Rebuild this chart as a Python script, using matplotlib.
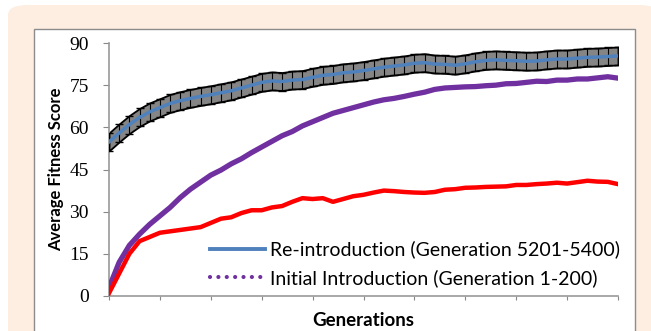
import numpy as np
import matplotlib
matplotlib.use("Agg")
import matplotlib.pyplot as plt
from matplotlib.patches import FancyBboxPatch, Rectangle
from matplotlib.lines import Line2D

# generations sampled every 4 steps
generations = list(range(0, 201, 4))

reintro = [54.8, 58.0, 61.0, 63.5, 65.5, 67.0, 68.5, 69.5, 70.3, 71.0,
           71.6, 72.3, 73.0, 74.0, 75.0, 76.0, 76.5, 76.3, 76.8, 77.0,
           77.8, 78.5, 78.8, 79.4, 79.7, 80.2, 80.8, 81.4, 81.8, 82.2,
           82.8, 83.0, 82.5, 82.4, 82.1, 82.6, 83.3, 83.8, 84.0, 83.8,
           83.7, 83.5, 83.6, 84.0, 84.3, 84.3, 84.6, 84.9, 85.0, 85.2, 85.4]
reintro_err = 3.2

initial = [3.0, 12.0, 18.0, 22.0, 25.5, 28.5, 31.5, 35.0, 38.0, 40.5,
           43.0, 44.8, 47.0, 48.8, 51.0, 53.0, 55.0, 57.0, 58.5, 60.5,
           62.0, 63.5, 65.0, 66.0, 67.0, 68.0, 69.0, 69.8, 70.3, 71.0,
           71.8, 72.5, 73.5, 74.0, 74.2, 74.4, 74.5, 74.8, 75.0, 75.5,
           75.6, 76.0, 76.4, 76.3, 76.8, 76.8, 77.2, 77.2, 77.6, 78.0, 77.5]

other = [1.0, 8.0, 15.0, 19.5, 21.0, 22.5, 23.0, 23.5, 24.0, 24.5,
         26.0, 27.5, 28.0, 29.5, 30.5, 30.5, 31.5, 32.0, 33.5, 34.8,
         34.5, 34.8, 33.5, 34.5, 35.5, 36.0, 36.8, 37.5, 37.3, 37.0,
         36.8, 36.7, 37.0, 37.8, 38.0, 38.5, 38.6, 38.8, 38.9, 39.0,
         39.5, 39.5, 39.8, 40.0, 40.3, 40.0, 40.5, 41.0, 40.7, 40.6, 39.8]

y_ticks = [0, 15, 30, 45, 60, 75, 90]
x_ticks = list(range(0, 201, 20))

W, H = 651, 331
fig = plt.figure(figsize=(W / 100, H / 100), dpi=100)
fig.patch.set_facecolor("white")

# peach frame and white chart box (behind the axes)
fig.patches.append(FancyBboxPatch((8 / W, -0.5), 1.0, 1.5 - 5 / H,
                                  boxstyle="round,pad=0,rounding_size=0.03",
                                  transform=fig.transFigure, facecolor="#fdeee1",
                                  edgecolor="none", zorder=-3))
fig.patches.append(Rectangle((34 / W, -0.1), (635 - 34) / W, (H - 29) / H + 0.1,
                             transform=fig.transFigure, facecolor="white",
                             edgecolor="#8c8c8c", linewidth=1.0, zorder=-2))

ax = fig.add_axes([109 / W, (H - 296) / H, 509 / W, 253 / H])
ax.set_facecolor("none")

x = np.array(generations)
b = np.array(reintro)
ax.fill_between(x, b - reintro_err, b + reintro_err, color="#858585",
                edgecolor="black", linewidth=1.3, zorder=2)
ax.errorbar(x, b, yerr=reintro_err, fmt="none", ecolor="black",
            elinewidth=0.8, capsize=3, capthick=1.0, zorder=3)
ax.plot(x, b, color="#4f81bd", lw=2.5, zorder=4)
ax.plot(x, initial, color="#7030a0", lw=3.8, zorder=4)
ax.plot(x, other, color="#ff0000", lw=3.2, zorder=4)

ax.set_xlim(0, 200)
ax.set_ylim(0, 90)
ax.set_yticks(y_ticks)
ax.set_yticklabels([str(t) for t in y_ticks], family="Liberation Serif", fontsize=14)
ax.set_xticks(x_ticks)
ax.set_xticklabels([])
ax.tick_params(axis="y", direction="out", length=4.5, color="#888888", pad=10)
ax.tick_params(axis="x", direction="out", length=3, color="#888888")
for s in ["top", "right"]:
    ax.spines[s].set_visible(False)
for s in ["left", "bottom"]:
    ax.spines[s].set_color("#999999")
    ax.spines[s].set_linewidth(1.2)

ax.set_ylabel("Average Fitness Score", family="Lato", fontweight="bold",
              fontsize=12, labelpad=4)
fig.text(363 / W, (H - 320) / H, "Generations", family="Lato", fontweight="bold",
         fontsize=13.5, ha="center", va="center", zorder=5)

handles = [Line2D([], [], color="#4f81bd", lw=2.8),
           Line2D([], [], color="#7030a0", lw=3.0, linestyle=(0, (0.01, 2)),
                  dash_capstyle="round")]
labels = ["Re-introduction (Generation 5201-5400)",
          "Initial Introduction (Generation 1-200)"]
leg = ax.legend(handles, labels, loc="lower right", bbox_to_anchor=(1.02, 0.005),
                frameon=False, prop={"family": "Lato", "size": 14},
                handlelength=2.8, handletextpad=0.3, labelspacing=0.55,
                borderaxespad=0)

fig.savefig("out.png", dpi=100)
